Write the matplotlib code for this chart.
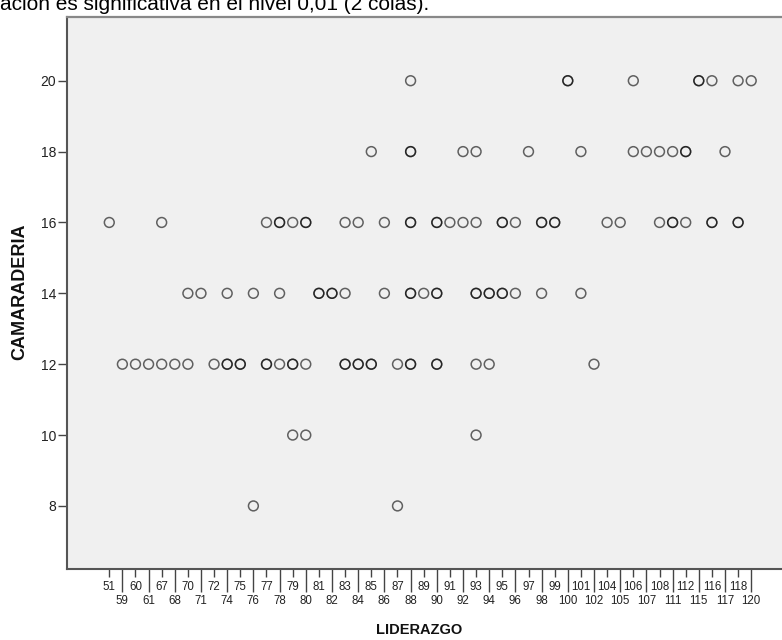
import matplotlib
matplotlib.use("Agg")
import matplotlib.pyplot as plt

plt.rcParams['font.family'] = ['Liberation Sans', 'DejaVu Sans']

# categorias del eje X (LIDERAZGO), en el orden del eje
categorias = [51, 59, 60, 61, 67, 68, 70, 71, 72, 74, 75, 76, 77, 78, 79, 80, 81, 82,
              83, 84, 85, 86, 87, 88, 89, 90, 91, 92, 93, 94, 95, 96, 97, 98, 99, 100,
              101, 102, 104, 105, 106, 107, 108, 111, 112, 115, 116, 117, 118, 120]

# niveles de CAMARADERIA y los valores de LIDERAZGO observados en cada uno
# (valores repetidos = casos superpuestos, se ven mas oscuros)
niveles = [20, 18, 16, 14, 12, 10, 8]
lid_20 = [88, 100, 100, 106, 115, 115, 116, 118, 120]
lid_18 = [85, 88, 88, 92, 93, 97, 101, 106, 107, 108, 111, 112, 112, 117]
lid_16 = [51, 67, 77, 78, 78, 79, 80, 80, 83, 84, 86, 88, 88, 90, 90, 91, 92, 93,
          95, 95, 96, 98, 98, 99, 99, 104, 105, 108, 111, 111, 112, 116, 116, 118, 118]
lid_14 = [70, 71, 74, 76, 78, 81, 81, 82, 82, 83, 86, 88, 88, 89, 90, 90, 93, 93,
          94, 94, 95, 95, 96, 98, 101]
lid_12 = [59, 60, 61, 67, 68, 70, 72, 74, 74, 75, 75, 77, 77, 78, 79, 79, 80, 83, 83,
          84, 84, 85, 85, 87, 88, 88, 90, 90, 93, 94, 102]
lid_10 = [79, 80, 93]
lid_8 = [76, 87]
filas = [lid_20, lid_18, lid_16, lid_14, lid_12, lid_10, lid_8]

titulo_previo = "ación es significativa en el nivel 0,01 (2 colas)."


def plot_scatter():
    W, H = 782, 640
    fig = plt.figure(figsize=(W / 100, H / 100), dpi=100)
    fig.patch.set_facecolor('white')

    left, right, top, bottom = 66.7, 782, 17.3, 569
    ax = fig.add_axes([left / W, 1 - bottom / H, (right - left) / W, (bottom - top) / H])
    ax.set_facecolor('#f0f0f0')

    for y, xs in zip(niveles, filas):
        pos = [categorias.index(v) for v in xs]
        ax.scatter(pos, [y] * len(pos), s=50, facecolors='none',
                   edgecolors='black', linewidths=1.1, alpha=0.6, zorder=3)

    ax.set_xlim(-3.25, 51.35)
    ax.set_ylim(6.22, 21.79)

    # etiquetas alternadas en dos filas, como en SPSS
    ax.set_xticks(range(0, len(categorias), 2))
    ax.set_xticklabels([str(c) for c in categorias[0::2]])
    ax.set_xticks(range(1, len(categorias), 2), minor=True)
    ax.set_xticklabels([str(c) for c in categorias[1::2]], minor=True)
    ax.tick_params(axis='x', which='major', length=5.8, width=1.0, color='#444',
                   pad=3.2, labelsize=8.3, labelcolor='#222')
    ax.tick_params(axis='x', which='minor', length=16.8, width=1.0, color='#444',
                   pad=1.6, labelsize=8.3, labelcolor='#222')

    ax.set_yticks(niveles[::-1])
    ax.tick_params(axis='y', length=6.5, width=1.0, color='#444', pad=1,
                   labelsize=10, labelcolor='#222')

    ax.spines['right'].set_visible(False)
    ax.spines['left'].set_color('#555')
    ax.spines['left'].set_linewidth(1.5)
    ax.spines['bottom'].set_color('#555')
    ax.spines['bottom'].set_linewidth(1.5)
    ax.spines['top'].set_color('#888')
    ax.spines['top'].set_linewidth(1.6)

    fig.text(20 / W, 1 - 292 / H, "CAMARADERIA", rotation=90, fontsize=13,
             fontweight='bold', ha='center', va='center', color='#111')
    fig.text(419 / W, 1 - 630 / H, "LIDERAZGO", fontsize=10.5,
             fontweight='bold', ha='center', va='center', color='#111')

    # linea del documento original cortada arriba
    fig.text(0, 1 - 9.5 / H, titulo_previo, fontsize=15, ha='left',
             va='baseline', color='black')

    fig.savefig("out.png", dpi=100)
    plt.close(fig)


if __name__ == "__main__":
    plot_scatter()
